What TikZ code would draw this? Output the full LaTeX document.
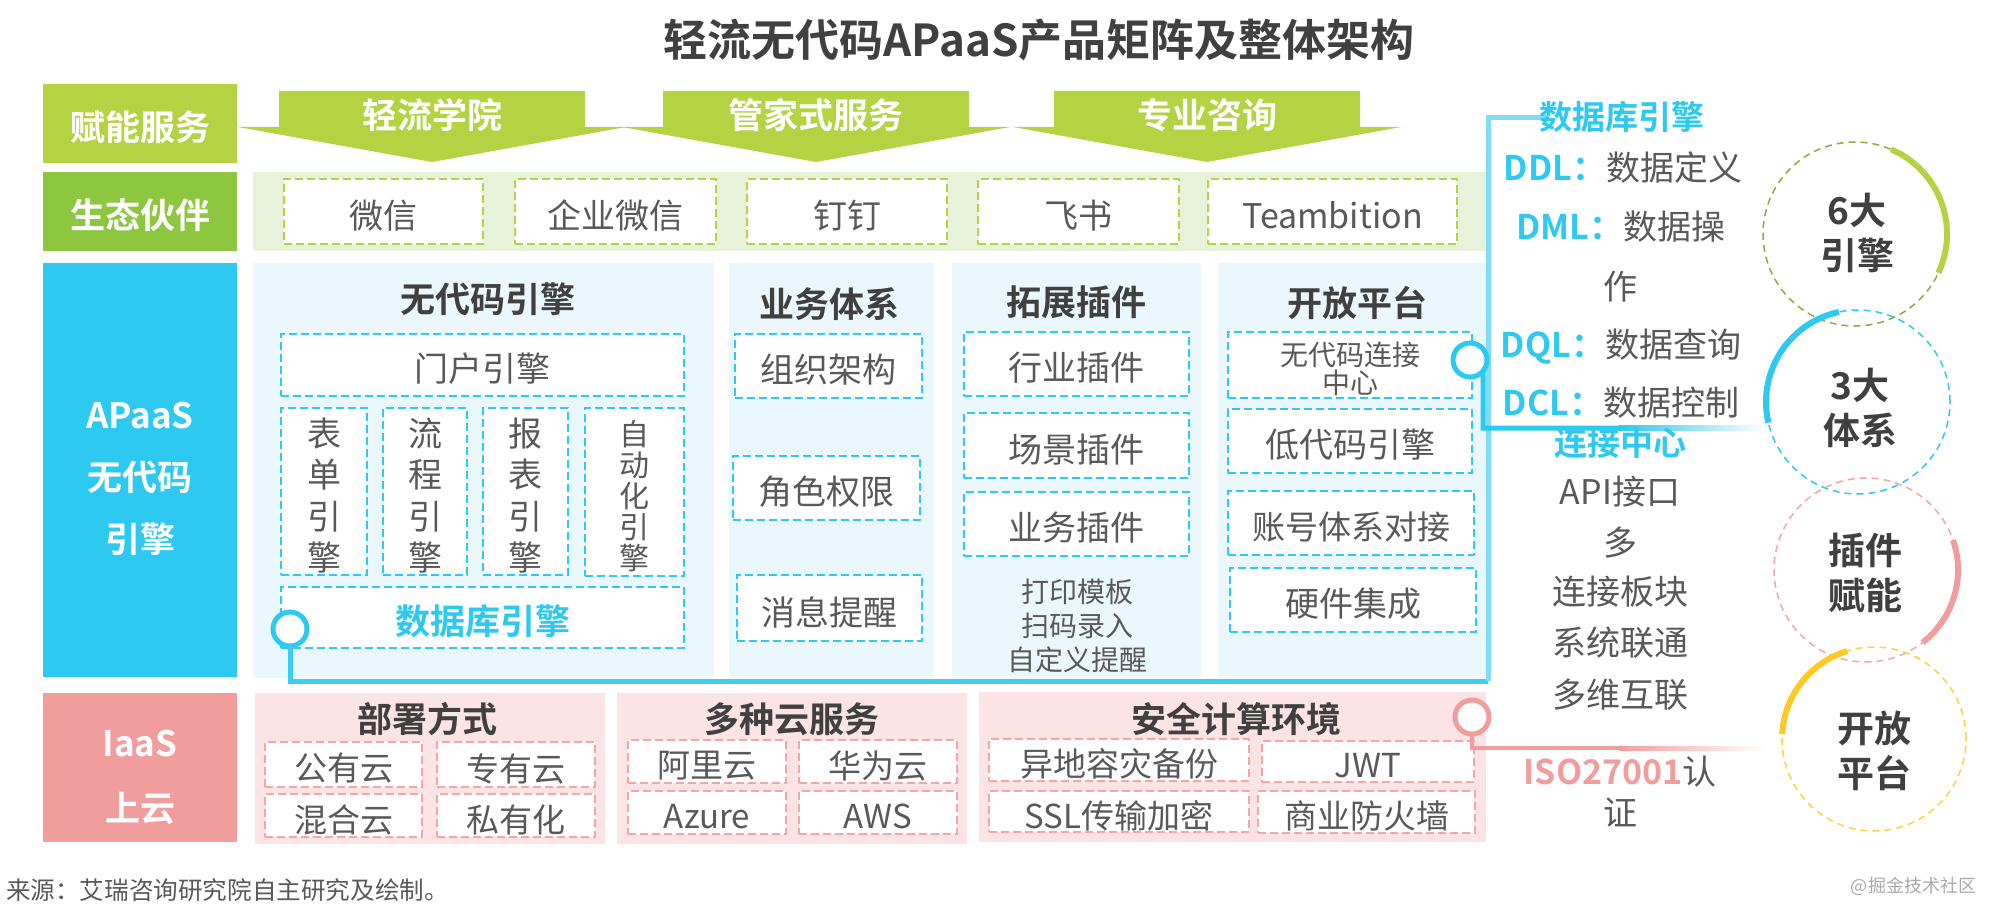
\documentclass[tikz,border=0pt]{standalone}
\usepackage{fontspec}
\setmainfont{Noto Sans CJK SC}[BoldFont={Noto Sans CJK SC Bold}]
\definecolor{cgreen}{HTML}{B4D241}
\definecolor{cgreen2}{HTML}{8DC63F}
\definecolor{cgreenbg}{HTML}{E8F2DA}
\definecolor{ccyan}{HTML}{2EC9F0}
\definecolor{ccyanbg}{HTML}{EAF8FD}
\definecolor{ccyanline}{HTML}{3CCDF2}
\definecolor{ccyanlight}{HTML}{80DDF5}
\definecolor{cpink}{HTML}{F19D9D}
\definecolor{cpinkbg}{HTML}{FCE4E6}
\definecolor{cpinkdash}{HTML}{F4A5A5}
\definecolor{colive}{HTML}{94A83A}
\definecolor{cyellow}{HTML}{FFC926}
\definecolor{cyellowd}{HTML}{FFD040}
\definecolor{cgray}{HTML}{595959}
\definecolor{ctitle}{HTML}{404040}
\definecolor{cwm}{HTML}{AAAAAA}
\newcommand\fs[2]{\fontsize{#1pt}{#2pt}\selectfont}
\newcommand\bx[7]{\node[#1, minimum width={(#5-#3)*0.5pt}, minimum height={(#6-#4)*0.5pt}] (#2) at ({(#3+#5)/2},{(#4+#6)/2}) {};
  \node[#1, draw=none, fill=none, yshift=-2pt] (#2t) at (#2.center) {#7};}
\newcommand\dl[2]{{\bfseries\color{ccyan}#1：}#2}
\begin{document}
\begin{tikzpicture}[x=0.5pt,y=-0.5pt,
  every node/.style={inner sep=0pt, outer sep=0pt, text=cgray},
  lab/.style={fill=#1, text=white, font=\fs{17.5}{21}\bfseries, align=center},
  labt/.style={text=white, font=\fs{17.5}{31}\bfseries, align=center, yshift=-0.5pt},
  panel/.style={fill=#1},
  dbox/.style={draw=#1, fill=white, line width=1pt, dash pattern=on 4pt off 2pt, font=\fs{17}{20}, align=center},
  ptitle/.style={font=\fs{17.5}{21}\bfseries, text=ctitle, yshift=-1.25pt},
  rt/.style={font=\fs{17}{20}},
  ring/.style={line width=0.75pt, dash pattern=on 3.5pt off 2.5pt},
  arcline/.style={line width=3pt},
  ctxt/.style={font=\fs{18.5}{22.5}\bfseries, align=center, text=ctitle},
  hole/.style={circle, draw=#1, fill=white, line width=2.5pt, minimum size=17pt}
]
\useasboundingbox (0,0) rectangle (1996,920);
\fill[white] (0,0) rectangle (1996,920);

% title
\node[font=\fs{22}{26}\bfseries, text=ctitle, yshift=-1.5pt] (title) at (1039,37) {轻流无代码APaaS产品矩阵及整体架构};

% row 1
\bx{lab=cgreen}{L1}{43}{84}{237}{163}{赋能服务}
\foreach \c/\t/\n in {432/轻流学院/a1,816/管家式服务/a2,1207/专业咨询/a3}{
  \fill[cgreen] ({\c-153},91) -- ({\c+153},91) -- ({\c+153},127) -- ({\c+194},127) -- (\c,162) -- ({\c-194},127) -- ({\c-153},127) -- cycle;
  \node[font=\fs{17.5}{21}\bfseries, text=white, yshift=-2pt] (\n) at (\c,111) {\t};
}

% row 2
\bx{lab=cgreen2}{L2}{43}{172}{237}{251}{生态伙伴}
\bx{panel=cgreenbg}{P2}{253}{172}{1486}{251}{}
\bx{dbox=cgreen}{g1}{284}{179}{483}{244}{微信}
\bx{dbox=cgreen}{g2}{515}{179}{716}{244}{企业微信}
\bx{dbox=cgreen}{g3}{747}{179}{947}{244}{钉钉}
\bx{dbox=cgreen}{g4}{978}{179}{1179}{244}{飞书}
\bx{dbox=cgreen}{g5}{1208}{179}{1457}{244}{Teambition}

% row 3
\bx{lab=ccyan}{L3}{43}{263}{237}{677}{}
\node[labt] (L3x) at (140,478) {APaaS\\无代码\\引擎};
\bx{panel=ccyanbg}{P31}{253}{263}{714}{678}{}
\bx{panel=ccyanbg}{P32}{729}{263}{934}{678}{}
\bx{panel=ccyanbg}{P33}{952}{263}{1201}{678}{}
\bx{panel=ccyanbg}{P34}{1218}{263}{1486}{678}{}
\node[ptitle] (h31) at (488,297) {无代码引擎};
\node[ptitle] (h32) at (829,302) {业务体系};
\node[ptitle] (h33) at (1076,300) {拓展插件};
\node[ptitle] (h34) at (1357,300) {开放平台};

\bx{dbox=ccyan}{e0}{281}{334}{684}{396}{门户引擎}
\bx{dbox=ccyan,font=\fs{17}{20.8}}{e1}{281}{408}{367}{575}{表\\单\\引\\擎}
\bx{dbox=ccyan,font=\fs{17}{20.8}}{e2}{383}{408}{467}{575}{流\\程\\引\\擎}
\bx{dbox=ccyan,font=\fs{17}{20.8}}{e3}{483}{408}{568}{575}{报\\表\\引\\擎}
\bx{dbox=ccyan,font=\fs{15}{15.5}}{e4}{585}{408}{684}{576}{自\\动\\化\\引\\擎}
\bx{dbox=ccyan,font=\fs{17.5}{21}\bfseries,text=ccyan}{e5}{281}{587}{684}{648}{数据库引擎}

\bx{dbox=ccyan}{b1}{735}{334}{922}{398}{组织架构}
\bx{dbox=ccyan}{b2}{733}{456}{920}{520}{角色权限}
\bx{dbox=ccyan}{b3}{737}{575}{922}{641}{消息提醒}

\bx{dbox=ccyan}{x1}{964}{332}{1189}{396}{行业插件}
\bx{dbox=ccyan}{x2}{964}{413}{1189}{478}{场景插件}
\bx{dbox=ccyan}{x3}{964}{492}{1189}{556}{业务插件}
\node[font=\fs{14}{17}, align=center, yshift=-1pt] (x4) at (1077,624) {打印模板\\扫码录入\\自定义提醒};

\bx{dbox=ccyan,font=\fs{14}{14}}{o1}{1228}{332}{1472}{398}{无代码连接\\中心}
\bx{dbox=ccyan}{o2}{1228}{409}{1472}{473}{低代码引擎}
\bx{dbox=ccyan,font=\fs{16.5}{20}}{o3}{1228}{491}{1474}{555}{账号体系对接}
\bx{dbox=ccyan}{o4}{1230}{568}{1476}{632}{硬件集成}

% row 4
\bx{lab=cpink}{L4}{43}{693}{237}{842}{}
\node[labt, font=\fs{17.5}{32.5}\bfseries] (L4x) at (140,776) {IaaS\\上云};
\bx{panel=cpinkbg}{P41}{255}{693}{605}{844}{}
\bx{panel=cpinkbg}{P42}{617}{693}{967}{844}{}
\bx{panel=cpinkbg}{P43}{979}{692}{1486}{842}{}
\node[ptitle] (h41) at (427,717) {部署方式};
\node[ptitle] (h42) at (792,717) {多种云服务};
\node[ptitle] (h43) at (1236,717) {安全计算环境};
\bx{dbox=cpinkdash,font=\fs{16.5}{20}}{d1}{265}{742}{422}{787}{公有云}
\bx{dbox=cpinkdash,font=\fs{16.5}{20}}{d2}{437}{742}{595}{787}{专有云}
\bx{dbox=cpinkdash,font=\fs{16.5}{20}}{d3}{265}{794}{422}{837}{混合云}
\bx{dbox=cpinkdash,font=\fs{16.5}{20}}{d4}{437}{794}{595}{837}{私有化}
\bx{dbox=cpinkdash,font=\fs{16.5}{20}}{m1}{628}{740}{786}{783}{阿里云}
\bx{dbox=cpinkdash,font=\fs{16.5}{20}}{m2}{799}{740}{957}{783}{华为云}
\bx{dbox=cpinkdash,font=\fs{16.5}{20}}{m3}{628}{791}{786}{834}{Azure}
\bx{dbox=cpinkdash,font=\fs{16.5}{20}}{m4}{799}{791}{957}{834}{AWS}
\bx{dbox=cpinkdash,font=\fs{16.5}{20}}{s1}{989}{739}{1249}{781}{异地容灾备份}
\bx{dbox=cpinkdash,font=\fs{16.5}{20}}{s2}{1262}{741}{1474}{782}{JWT}
\bx{dbox=cpinkdash,font=\fs{16.5}{20}}{s3}{989}{791}{1249}{832}{SSL传输加密}
\bx{dbox=cpinkdash,font=\fs{16.5}{20}}{s4}{1258}{791}{1475}{833}{商业防火墙}

% connectors
\coordinate (q1) at (290,681);
\coordinate (q2) at (1488,681);
\coordinate (q3) at (1488,118);
\coordinate (q4) at (1548,118);
\node[hole=ccyan] (k1) at (290,629) {};
\draw[ccyanline, line width=2.5pt] (k1.south) -- (q1) -- (q2);
\draw[ccyanlight, line width=2.5pt] (q2) -- (q3) -- (q4);
\node[hole=ccyan] (k2) at (1470,360) {};
\coordinate (r1) at (1483,428);
\coordinate (r2) at (1620,428);
\draw[ccyan, line width=2.5pt] (k2.-40) -- (r1) -- (r2);
\shade[left color=ccyan, right color=white] (1619,425.5) rectangle (1765,430.5);
\node[hole=cpink] (k3) at (1472,717) {};
\coordinate (p1) at (1472,748);
\coordinate (p2) at (1620,748);
\draw[cpink, line width=2pt] (k3.south) -- (p1) -- (p2);
\shade[left color=cpink, right color=white] (1619,746) rectangle (1765,750);

% right text column
\node[font=\fs{16.5}{20}\bfseries, text=ccyan] (j1) at (1622,117) {数据库引擎};
\node[rt] (y1) at (1623,168) {\dl{DDL}{数据定义}};
\node[rt] (y2) at (1621,227) {\dl{DML}{数据操}};
\node[rt] (y3) at (1620,287) {作};
\node[rt] (y4) at (1621,347) {\dl{DQL}{数据查询}};
\node[rt] (y5) at (1621,403) {\dl{DCL}{数据控制}};
\node[font=\fs{16.5}{20}\bfseries, text=ccyan] (j2) at (1620,443) {连接中心};
\node[rt] (z1) at (1620,492) {API接口};
\node[rt] (z2) at (1620,543) {多};
\node[rt] (z3) at (1620,592) {连接板块};
\node[rt] (z4) at (1620,643) {系统联通};
\node[rt] (z5) at (1620,695) {多维互联};
\node[rt] (w1) at (1620,772) {{\bfseries\color{cpink}ISO27001}认};
\node[rt] (w2) at (1620,813) {证};

% circles
\coordinate (o6) at (1855,234);
\coordinate (o3) at (1858,402);
\coordinate (op) at (1866,570);
\coordinate (ok) at (1874,739);
\draw[colive, ring] (o6) circle[radius=46pt];
\draw[cgreen, arcline] (o6) ++(67:46pt) arc[start angle=67, end angle=-25, radius=46pt];
\draw[ccyan, ring] (o3) circle[radius=46pt];
\draw[ccyan, arcline] (o3) ++(102:46pt) arc[start angle=102, end angle=193, radius=46pt];
\draw[cpinkdash, ring] (op) circle[radius=46pt];
\draw[cpink, arcline] (op) ++(19:46pt) arc[start angle=19, end angle=-52, radius=46pt];
\draw[cyellowd, ring] (ok) circle[radius=46pt];
\draw[cyellow, arcline] (ok) ++(107:46pt) arc[start angle=107, end angle=177, radius=46pt];
\node[ctxt] (n6) at (1857,233) {6大\\引擎};
\node[ctxt] (n3) at (1860,408) {3大\\体系};
\node[ctxt] (np) at (1865,573) {插件\\赋能};
\node[ctxt] (nk) at (1874,751) {开放\\平台};

% footer
\node[anchor=west, font=\fs{12.3}{15}] (src) at (6,890) {来源：艾瑞咨询研究院自主研究及绘制。};
\node[anchor=east, font=\fs{9}{11}, text=cwm] (wm) at (1976,886) {@掘金技术社区};
\end{tikzpicture}
\end{document}
